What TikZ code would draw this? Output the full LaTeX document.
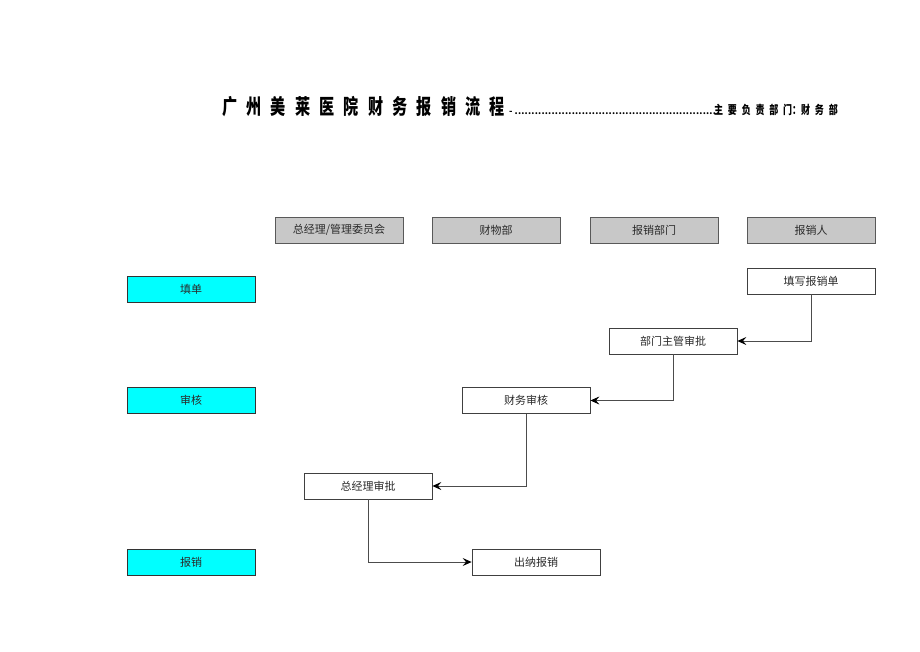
\documentclass[tikz,border=0pt]{standalone}
\usepackage{fontspec}
\setmainfont{Noto Sans CJK SC}
\usetikzlibrary{arrows.meta}
\definecolor{hdrgray}{HTML}{C8C8C8}
\definecolor{cyanfill}{HTML}{00FFFF}
\definecolor{txt}{HTML}{2A2A2A}
\tikzset{
  box/.style={draw=black!75, line width=0.8pt, minimum width=128pt, minimum height=26pt, inner sep=0pt, font=\fontsize{11}{12}\selectfont, text=txt},
  hdr/.style={box, fill=hdrgray, draw=black!65},
  stage/.style={box, fill=cyanfill, draw=black!80},
  stepbox/.style={box, fill=white},
  arr/.style={draw=black!70, line width=0.8pt, -{Stealth[length=9pt,width=8pt,inset=3.5pt,color=black]}}
}
\begin{document}
\begin{tikzpicture}[x=1pt,y=-1pt]
\useasboundingbox (0,0) rectangle (920,651);
% title
\node[anchor=base west, inner sep=0pt, xscale=0.72, font=\fontsize{21}{22}\selectfont\bfseries] (title) at (222,114)
  {广\hspace{12.8pt}州\hspace{12.8pt}美\hspace{12.8pt}莱\hspace{12.8pt}医\hspace{12.8pt}院\hspace{12.8pt}财\hspace{12.8pt}务\hspace{12.8pt}报\hspace{12.8pt}销\hspace{12.8pt}流\hspace{12.8pt}程};
\node[anchor=base west, inner sep=0pt, font=\fontsize{9}{10}\selectfont\bfseries] (dots) at (509,114)
  {-\hspace{2pt}\foreach\i in {1,...,61}{.\hspace{0.2pt}}};
\node[anchor=base west, inner sep=0pt, xscale=0.75, font=\fontsize{12}{13}\selectfont\bfseries] (resp) at (714,114)
  {主\hspace{6.4pt}要\hspace{6.4pt}负\hspace{6.4pt}责\hspace{6.4pt}部\hspace{6.4pt}门：\hspace{0pt}财\hspace{6.4pt}务\hspace{6.4pt}部};
% header row
\node[hdr] (h1) at (339,230) {总经理/管理委员会};
\node[hdr] (h2) at (496,230) {财物部};
\node[hdr] (h3) at (654,230) {报销部门};
\node[hdr] (h4) at (811,230) {报销人};
% stages
\node[stage] (s1) at (191,289.5) {填单};
\node[stage] (s2) at (191,400.5) {审核};
\node[stage] (s3) at (191,562) {报销};
% steps
\node[stepbox] (fill) at (811,281) {填写报销单};
\node[stepbox] (dept) at (673,341) {部门主管审批};
\node[stepbox] (fin) at (526,400.5) {财务审核};
\node[stepbox] (gm) at (368,486) {总经理审批};
\node[stepbox] (cash) at (536,562) {出纳报销};
% connectors
\draw[arr] (fill.south) |- (dept.east);
\draw[arr] (dept.south) |- (fin.east);
\draw[arr] (fin.south) |- (gm.east);
\draw[arr] (gm.south) |- (cash.west);
\end{tikzpicture}
\end{document}
